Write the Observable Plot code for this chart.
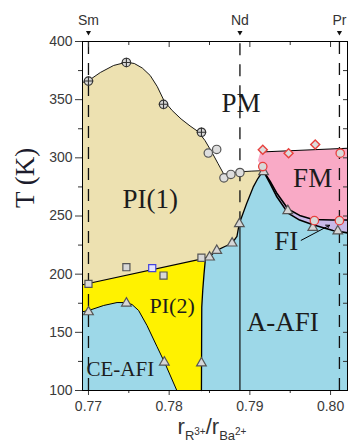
<!DOCTYPE html>
<html>
<head>
<meta charset="utf-8">
<script src="https://cdn.jsdelivr.net/npm/d3@7"></script>
<script src="https://cdn.jsdelivr.net/npm/@observablehq/plot@0.6"></script>
<style>
  html, body { margin: 0; padding: 0; background: white; }
  #chart svg { display: block; }
</style>
</head>
<body>
<div id="chart"></div>
<script>
// ---------- data ----------
const xDomain = [0.76926, 0.80210];
const yDomain = [100, 400];
const xTicks = [0.77, 0.78, 0.79, 0.80];
const xMinorTicks = [0.775, 0.785, 0.795];
const yTicks = [100, 150, 200, 250, 300, 350, 400];
const yMinorTicks = [125, 175, 225, 275, 325, 375];

const elementNames = ["Sm", "Nd", "Pr"];
const elementX = [0.7700, 0.78877, 0.8011];

// PI(1) / PM boundary
const pmX = [0.76926,0.77004,0.77148,0.77312,0.77469,0.77568,0.77667,0.77765,0.77852,0.77938,0.78037,0.78148,0.78259,0.78358,0.78444,0.78531,0.78605,0.78679,0.78778,0.78877,0.79025,0.79165];
const pmT = [364.8,366.5,373.4,379.4,382.2,381.1,377.2,370.8,361.3,348.9,340.7,333.4,327.4,322.6,314.9,304.6,295.1,285.7,287.0,288.0,288.6,289.0];
// PI(1) / A-AFI boundary
const tanBlueX = [0.7845,0.7850,0.7859,0.7869,0.7878,0.7884,0.78868,0.78959,0.79041,0.79099,0.79165];
const tanBlueT = [213.8,215.2,220.5,223.8,226.6,232.4,243.3,260.5,274.8,282.2,289.0];
// PI(1) / PI(2) boundary
const pi12X = [0.76926, 0.7845];
const pi12T = [190.9, 213.8];
// PI(2) / A-AFI boundary
const yelRightX = [0.7845,0.78432,0.78416,0.78404,0.78402,0.7840];
const yelRightT = [213.8,200.3,186.0,171.6,140.0,100];
// PI(2) / CE-AFI boundary
const ceX = [0.76926,0.77004,0.77189,0.77354,0.77465,0.77540,0.77621,0.77725,0.77848,0.77942,0.78095];
const ceT = [167.7,168.8,173.1,175.6,175.6,173.9,168.8,155.9,137.9,124.3,100];
// FM upper boundary
const fmTopX = [0.7913, 0.8021];
const fmTopT = [305.0, 308.3];
const fmLeftX = [0.7910];
const fmLeftT = [297.7];
// FM / FI and FI / A-AFI boundaries
const fiUpX = [0.79165,0.7925,0.7933,0.79473,0.79617,0.79782,0.80029,0.8021];
const fiUpT = [289.0,280.0,270.0,256.0,250.5,247.0,246.5,246.5];
const fiLoX = [0.79165,0.7925,0.7933,0.79473,0.79617,0.79782,0.80029,0.8021];
const fiLoT = [289.0,278.0,267.0,252.5,246.5,242.5,237.5,235.5];

// markers
const crossX = [0.7700, 0.7747, 0.7793, 0.7840];
const crossT = [366, 382, 346, 322];
const circleX = [0.78485, 0.78589, 0.78679, 0.78765, 0.78877];
const circleT = [304.1, 307.2, 282.8, 285.7, 287.4];
const squareX = [0.7700, 0.7747, 0.7793, 0.7840];
const squareT = [191.7, 206.0, 198.8, 214.1];
const blueSquareX = [0.7779];
const blueSquareT = [205.2];
const triX = [0.7700, 0.7747, 0.7794, 0.7840, 0.7850, 0.7859, 0.7878, 0.7887, 0.7917, 0.7947, 0.7978, 0.8009];
const triT = [167.5, 175.0, 124.3, 123.5, 214.6, 220.3, 226.6, 243.3, 288.0, 254.5, 240.0, 237.0];
const diamondX = [0.7916, 0.7948, 0.7981];
const diamondT = [306.9, 304.0, 311.4];
const redCircleX = [0.7916, 0.7980, 0.8011, 0.8012];
const redCircleT = [292.5, 246.0, 246.0, 304.0];

// region labels
const regionNames = ["PM", "PI(1)", "FM", "A-AFI", "FI", "PI(2)", "CE-AFI"];
const regionX = [0.78889, 0.77765, 0.79778, 0.79407, 0.79451, 0.78037, 0.77395];
const regionT = [346.7, 264.5, 282.2, 158.7, 228.6, 173.0, 118.0];
const regionSize = [27, 27, 27, 27, 27, 22, 21];

// FI arrow
const arrowX1 = [0.79636], arrowT1 = [229.1], arrowX2 = [0.79988], arrowT2 = [242.0];

// ---------- build ----------
const zip = (xs, ts) => xs.map((x, i) => ({x, T: ts[i]}));
const rev = a => a.slice().reverse();
const pm = zip(pmX, pmT), tanBlue = zip(tanBlueX, tanBlueT), pi12 = zip(pi12X, pi12T);
const yelRight = zip(yelRightX, yelRightT), ce = zip(ceX, ceT);
const fmTop = zip(fmTopX, fmTopT), fmLeft = zip(fmLeftX, fmLeftT);
const fiUp = zip(fiUpX, fiUpT), fiLo = zip(fiLoX, fiLoT);

const bluePoly = [{x: xDomain[0], T: 100}, {x: xDomain[1], T: 100}, ...rev(fiLo), ...rev(tanBlue), ...rev(pi12)];
const yellowPoly = [...pi12, ...yelRight, ...rev(ce)];
const tanPoly = [...pm, ...rev(tanBlue), ...rev(pi12)];
const pinkPoly = [...fmTop, ...rev(fiUp), ...fmLeft];
const purplePoly = [...fiUp, ...rev(fiLo)];

const poly = (data, fill) => Plot.line(data, {x: "x", y: "T", fill, stroke: "none"});
const bline = (data, w) => Plot.line(data, {x: "x", y: "T", stroke: "black", strokeWidth: w});

const px = 0.8596; // K per pixel
const xpx = 0.01 / 81; // x units per pixel

const chart = Plot.plot({
  width: 348,
  height: 443,
  marginLeft: 82,
  marginRight: 1,
  marginTop: 41,
  marginBottom: 53,
  style: {fontFamily: "'Liberation Sans', Arial, sans-serif", fontSize: "14px", color: "#3a3a3a", background: "white", overflow: "visible"},
  x: {domain: xDomain, ticks: xTicks, tickFormat: d3.format(".2f"), tickSize: 5, tickPadding: 6, label: null},
  y: {domain: yDomain, ticks: yTicks, tickFormat: d => String(d), tickSize: 7, tickPadding: 3, label: null},
  marks: [
    poly(bluePoly, "#9dd8e8"),
    poly(yellowPoly, "#fff200"),
    poly(tanPoly, "#ede1b1"),
    poly(pinkPoly, "#f9aac6"),
    poly(purplePoly, "#c8b9e8"),
    bline(pm, 0.9),
    bline(pi12, 1.1),
    bline(ce, 1),
    bline(yelRight, 1.3),
    bline(tanBlue, 1.3),
    bline(fmTop, 1.1),
    bline(fiUp, 1.6),
    bline(fiLo, 1.6),
    // element reference lines
    Plot.ruleX([elementX[0], elementX[2]], {y1: 100, y2: 400, stroke: "#111", strokeWidth: 1.3, strokeDasharray: "12,9"}),
    Plot.ruleX([elementX[1]], {y1: 243.3, y2: 400, stroke: "#111", strokeWidth: 1.3, strokeDasharray: "12,9"}),
    Plot.ruleX([elementX[1]], {y1: 100, y2: 243.3, stroke: "#111", strokeWidth: 1.2}),
    // minor / mirrored ticks
    Plot.ruleX(xMinorTicks, {y1: 100, y2: 100 - 3 * px, stroke: "#333"}),
    Plot.ruleX(xTicks, {y1: 400, y2: 400 - 6 * px, stroke: "#333"}),
    Plot.ruleX(xMinorTicks, {y1: 400, y2: 400 - 4 * px, stroke: "#333"}),
    Plot.ruleY(yMinorTicks, {x1: xDomain[0], x2: xDomain[0] - 4 * xpx, stroke: "#333"}),
    Plot.ruleY([...yTicks.slice(1, -1), ...yMinorTicks], {x1: xDomain[1], x2: xDomain[1] - 4 * xpx, stroke: "#333"}),
    // markers
    Plot.dot(zip(triX, triT), {x: "x", y: "T", symbol: "triangle", r: 3.6, fill: "#d6d6d6", stroke: "#555", strokeWidth: 1.2}),
    Plot.dot(zip(squareX, squareT), {x: "x", y: "T", symbol: "square", r: 4, fill: "#d8d8d8", stroke: "#555", strokeWidth: 1.2}),
    Plot.dot(zip(blueSquareX, blueSquareT), {x: "x", y: "T", symbol: "square", r: 4, fill: "#e4e4ff", stroke: "#4444dd", strokeWidth: 1.2}),
    Plot.dot(zip(circleX, circleT), {x: "x", y: "T", r: 4.2, fill: "#dedede", stroke: "#555", strokeWidth: 1.2}),
    Plot.dot(zip(crossX, crossT), {x: "x", y: "T", r: 4.2, fill: "#d8d8d8", stroke: "#333", strokeWidth: 1.2}),
    Plot.dot(zip(crossX, crossT), {x: "x", y: "T", symbol: "plus", r: 3.2, stroke: "#333", strokeWidth: 1.1}),
    Plot.dot(zip(diamondX, diamondT), {x: "x", y: "T", symbol: "square", rotate: 45, r: 3.6, fill: "#dcdcdc", stroke: "#e8413e", strokeWidth: 1.4}),
    Plot.dot(zip(redCircleX, redCircleT), {x: "x", y: "T", r: 4.2, fill: "#d8d8d8", stroke: "#e8413e", strokeWidth: 1.3}),
    // FI arrow
    Plot.arrow([0], {x1: () => arrowX1[0], y1: () => arrowT1[0], x2: () => arrowX2[0], y2: () => arrowT2[0], stroke: "black", strokeWidth: 1, headLength: 6}),
    // top element labels & markers
    Plot.text(elementNames, {x: (d, i) => elementX[i], y: () => 400, dy: -21, text: d => d, fontSize: 14, fill: "#333"}),
    Plot.dot(elementX, {x: d => d, y: () => 400, dy: -9, symbol: "triangle", rotate: 180, r: 1.9, fill: "#111", stroke: "none"}),
    // region labels
    Plot.text(regionNames, {x: (d, i) => regionX[i], y: (d, i) => regionT[i], text: d => d, fontSize: (d, i) => regionSize[i], fontFamily: "'Liberation Serif', 'Times New Roman', serif", fill: "#1c1c1c"}),
    // y title
    Plot.text(["T (K)"], {frameAnchor: "left", text: d => d, rotate: -90, dx: -57, dy: -8, fontSize: 27, fontFamily: "'Liberation Serif', 'Times New Roman', serif", fill: "#1c1c2c"}),
    Plot.frame({stroke: "black", strokeWidth: 1})
  ]
});

document.getElementById("chart").appendChild(chart);

// x-axis title with subscripts/superscripts
const svg = d3.select(chart.tagName.toLowerCase() === "svg" ? chart : chart.querySelector("svg"));
const t = svg.append("text")
  .attr("x", 212).attr("y", 434)
  .attr("text-anchor", "middle")
  .attr("font-family", "'Liberation Sans', Arial, sans-serif")
  .attr("fill", "#333");
t.append("tspan").attr("font-size", 22).text("r");
t.append("tspan").attr("font-size", 13).attr("dy", 6).text("R");
t.append("tspan").attr("font-size", 10).attr("dy", -5).text("3+");
t.append("tspan").attr("font-size", 22).attr("dy", -1).text("/r");
t.append("tspan").attr("font-size", 13).attr("dy", 6).text("Ba");
t.append("tspan").attr("font-size", 10).attr("dy", -5).text("2+");
</script>
</body>
</html>
